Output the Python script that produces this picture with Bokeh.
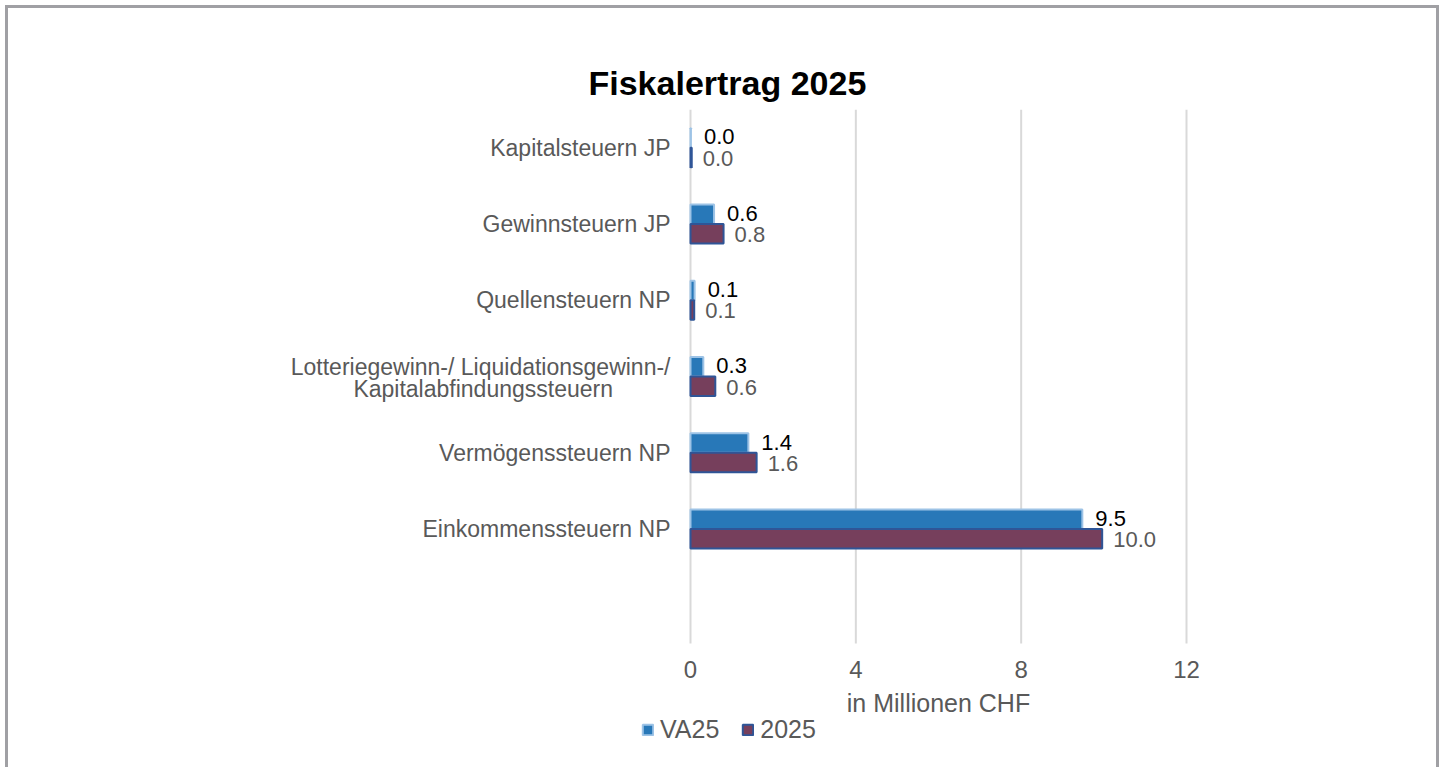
from bokeh.plotting import figure
from bokeh.models import ColumnDataSource, FixedTicker, Legend, LegendItem, Range1d
from bokeh.embed import file_html
from bokeh.resources import INLINE
from bokeh.core.properties import value

# ---- data (top to bottom in the chart) ----
categories = ["Kapitalsteuern JP", "Gewinnsteuern JP", "Quellensteuern NP",
              "Lotteriegewinn-/ Liquidationsgewinn-/ Kapitalabfindungssteuern",
              "Vermögenssteuern NP", "Einkommenssteuern NP"]
va25 = [0.01, 0.57, 0.10, 0.31, 1.40, 9.48]
y2025 = [0.03, 0.80, 0.09, 0.60, 1.60, 9.96]
x_ticks = [0, 4, 8, 12]
title = "Fiskalertrag 2025"
x_title = "in Millionen CHF"
series_names = ["VA25", "2025"]
wrapped_labels = {categories[3]: ["Lotteriegewinn-/ Liquidationsgewinn-/", "Kapitalabfindungssteuern"]}

FONT = "Liberation Sans"
GREY = "#595959"
NBSP = "\u00a0"

factors = [" "] + categories[::-1]   # bottom to top, empty slot at the bottom
SLOT = 100                            # one category slot on the y scale
slot_centre = {f: SLOT * i + SLOT / 2 for i, f in enumerate(factors)}
DODGE = 0.128 * SLOT
Y_TOP = SLOT * len(factors)
X_MIN, X_MAX = x_ticks[0], x_ticks[-1]

# layout in pixels (canvas): value area 682..1178 wide, 101..635 high
W, H = 1434, 762
VAL_L, VAL_R, VAL_T, VAL_B = 682, 1178, 101, 635
FR_L, FR_R, FR_B = 192, 1232, 758          # frame extended so that axis labels / legend are not clipped
px_x = (VAL_R - VAL_L) / (X_MAX - X_MIN)
px_y = (VAL_B - VAL_T) / Y_TOP
x_start = X_MIN - (VAL_L - FR_L) / px_x
x_end = X_MAX + (FR_R - VAL_R) / px_x
y_start = -(FR_B - VAL_B) / px_y

src = ColumnDataSource(dict(
    cat=categories,
    y_va25=[slot_centre[c] + DODGE for c in categories],
    y_2025=[slot_centre[c] - DODGE for c in categories],
    va25=va25,
    y2025=y2025,
    va25_lbl=[f"{v:.1f}" for v in va25],
    y2025_lbl=[f"{v:.1f}" for v in y2025],
))

p = figure(width=W, height=H, y_range=Range1d(y_start, Y_TOP), x_range=Range1d(x_start, x_end),
           output_backend="svg", toolbar_location=None,
           min_border_left=FR_L, min_border_right=W - FR_R, min_border_top=VAL_T,
           min_border_bottom=H - FR_B)
p.styles = {"margin-left": "5px", "margin-top": "5px",
            "border-top": "3px solid #a0a0a4", "border-left": "3px solid #a0a0a4",
            "border-right": "3px solid #a0a0a4"}
p.outline_line_color = None
p.background_fill_color = "white"
p.border_fill_color = "white"
p.xgrid.visible = False
p.ygrid.visible = False

# vertical gridlines spanning the category area only
p.segment(x0=x_ticks, x1=x_ticks, y0=[0] * len(x_ticks), y1=[Y_TOP] * len(x_ticks),
          line_color="#d9d9d9", line_width=2)

bh = 0.255 * SLOT
r1 = p.hbar(y="y_va25", right="va25", left=0, height=bh, source=src,
            fill_color="#2878b8", line_color="#9dc3e6", line_width=2)
r2 = p.hbar(y="y_2025", right="y2025", left=0, height=bh, source=src,
            fill_color="#763f5c", line_color="#2f5597", line_width=2)

p.text(x="va25", y="y_va25", text="va25_lbl", source=src,
       x_offset=13, y_offset=-1, text_baseline="middle", text_align="left",
       text_font=value(FONT), text_font_size="22px", text_color="black")
p.text(x="y2025", y="y_2025", text="y2025_lbl", source=src,
       x_offset=11, y_offset=1, text_baseline="middle", text_align="left",
       text_font=value(FONT), text_font_size="22px", text_color=GREY)

# x axis
xa = p.xaxis[0]
xa.fixed_location = 0
xa.bounds = (X_MIN, X_MAX)
xa.ticker = FixedTicker(ticks=x_ticks)
xa.axis_line_color = None
xa.major_tick_line_color = None
xa.minor_tick_line_color = None
xa.major_tick_out = 0
xa.major_tick_in = 0
xa.major_label_standoff = 17
xa.major_label_text_font = FONT
xa.major_label_text_font_size = "24px"
xa.major_label_text_color = GREY
xa.axis_label = x_title
xa.axis_label_text_font = FONT
xa.axis_label_text_font_size = "25px"
xa.axis_label_text_font_style = "normal"
xa.axis_label_text_color = GREY
xa.axis_label_standoff = 8

# y axis: one tick per category slot (two for the wrapped, centred label)
ticks, overrides = [], {}
for f in factors:
    c = int(slot_centre[f])
    if f in wrapped_labels:
        l1, l2 = wrapped_labels[f]
        ticks += [c + 13, c - 16]
        overrides[c + 13] = l1
        overrides[c - 16] = l2 + NBSP * 9
    else:
        ticks.append(c)
        overrides[c] = f
ya = p.yaxis[0]
ya.fixed_location = 0
ya.bounds = (0, Y_TOP)
ya.ticker = FixedTicker(ticks=ticks)
ya.major_label_overrides = overrides
ya.axis_line_color = None
ya.major_tick_line_color = None
ya.minor_tick_line_color = None
ya.major_tick_out = 0
ya.major_tick_in = 0
ya.minor_tick_out = 0
ya.major_label_standoff = 20
ya.major_label_text_font = FONT
ya.major_label_text_font_size = "23px"
ya.major_label_text_color = GREY

# title
p.title.text = title
p.title.text_font = FONT
p.title.text_font_size = "34px"
p.title.text_font_style = "bold"
p.title.text_color = "black"
p.title.align = "left"
p.title.offset = 580 - FR_L
p.title.standoff = 15

legend = Legend(items=[LegendItem(label=series_names[0], renderers=[r1]),
                       LegendItem(label=series_names[1], renderers=[r2])],
                orientation="horizontal", location=(633 - FR_L, 22),
                glyph_width=13, glyph_height=13, label_standoff=6, spacing=22,
                padding=0, margin=0, border_line_color=None, background_fill_alpha=0,
                label_text_font=FONT, label_text_font_size="25px", label_text_color=GREY)
p.add_layout(legend, "center")

open("out.html", "w").write(file_html(p, INLINE))
